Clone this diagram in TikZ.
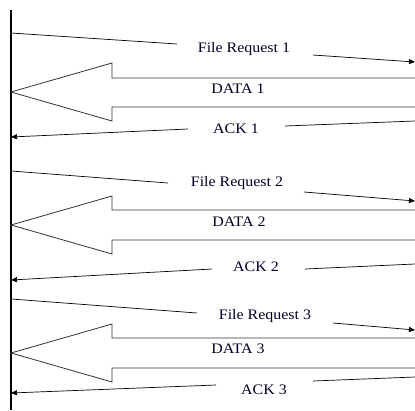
\documentclass[tikz,border=0pt]{standalone}
\usepackage{fontspec}
\setmainfont{Liberation Serif}[FakeStretch=1.1]
\usetikzlibrary{arrows.meta}
\begin{document}
\begin{tikzpicture}[x=1pt,y=-1pt,
  msg/.style={draw=black,line width=0.7pt},
  msgarrow/.style={msg,-{Triangle[length=6pt,width=5pt]}},
  bigarrow/.style={draw=black!80,line width=0.8pt,fill=white},
  lbl/.style={inner sep=1pt,font=\fontsize{14.5}{16}\selectfont,text=black!85!blue}]
\useasboundingbox (0,0) rectangle (415,410);
% timeline
\coordinate (top) at (11,10);
\coordinate (bot) at (11,410);
\draw[line width=1.1pt] (top) -- (bot);
% ---------- section 1
\coordinate (fr1s) at (11,33);
\coordinate (fr1a) at (177,44);
\node[lbl] (fr1) at (244,49) {File Request 1};
\coordinate (fr1b) at (313,55);
\coordinate (fr1e) at (415,62);
\draw[msg] (fr1s) -- (fr1a);
\draw[msgarrow] (fr1b) -- (fr1e);
\draw[bigarrow] (415,78) -- (112,78) -- (112,63) -- (11,92) -- (112,121) -- (112,107) -- (415,107);
\node[lbl] (d1) at (238,89) {DATA 1};
\coordinate (a1s) at (415,121);
\coordinate (a1a) at (285,126);
\node[lbl] (ack1) at (236,129) {ACK 1};
\coordinate (a1b) at (188,129);
\coordinate (a1e) at (11,137);
\draw[msg] (a1s) -- (a1a);
\draw[msgarrow] (a1b) -- (a1e);
% ---------- section 2
\coordinate (fr2s) at (11,171);
\coordinate (fr2a) at (168,183);
\node[lbl] (fr2) at (237,183) {File Request 2};
\coordinate (fr2b) at (304,192);
\coordinate (fr2e) at (415,201);
\draw[msg] (fr2s) -- (fr2a);
\draw[msgarrow] (fr2b) -- (fr2e);
\draw[bigarrow] (415,210) -- (112,210) -- (112,196) -- (11,225) -- (112,254) -- (112,240) -- (415,240);
\node[lbl] (d2) at (239,222) {DATA 2};
\coordinate (a2s) at (415,264);
\coordinate (a2a) at (305,269);
\node[lbl] (ack2) at (256,267) {ACK 2};
\coordinate (a2b) at (212,269);
\coordinate (a2e) at (11,280);
\draw[msg] (a2s) -- (a2a);
\draw[msgarrow] (a2b) -- (a2e);
% ---------- section 3
\coordinate (fr3s) at (11,299);
\coordinate (fr3a) at (197,313);
\node[lbl] (fr3) at (265,316) {File Request 3};
\coordinate (fr3b) at (333,323);
\coordinate (fr3e) at (415,330);
\draw[msg] (fr3s) -- (fr3a);
\draw[msgarrow] (fr3b) -- (fr3e);
\draw[bigarrow] (415,338) -- (112,338) -- (112,324) -- (11,353) -- (112,382) -- (112,368) -- (415,368);
\node[lbl] (d3) at (238,349) {DATA 3};
\coordinate (a3s) at (415,377);
\coordinate (a3a) at (313,381);
\node[lbl] (ack3) at (264,390) {ACK 3};
\coordinate (a3b) at (216,385);
\coordinate (a3e) at (11,393);
\draw[msg] (a3s) -- (a3a);
\draw[msgarrow] (a3b) -- (a3e);
\end{tikzpicture}
\end{document}
